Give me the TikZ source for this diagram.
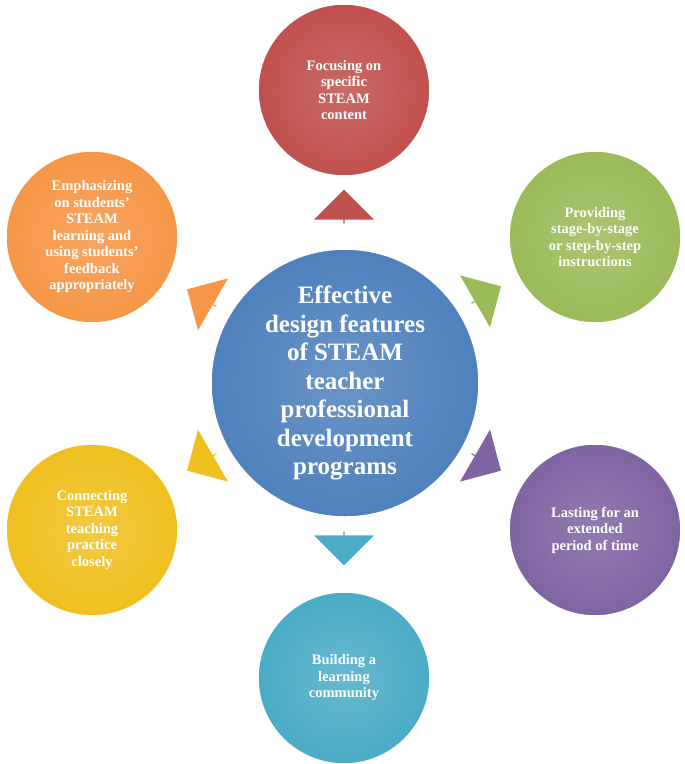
\documentclass[tikz,border=0pt]{standalone}
\usepackage{fontspec}
\setmainfont{Liberation Serif}
\usetikzlibrary{shapes.arrows}
\definecolor{cred}{HTML}{C0504D}
\definecolor{cgreen}{HTML}{9BBB59}
\definecolor{cpurple}{HTML}{8064A2}
\definecolor{cteal}{HTML}{4BACC6}
\definecolor{cyellow}{HTML}{F0C020}
\definecolor{corange}{HTML}{F79646}
\definecolor{cblue}{HTML}{4F81BD}
\tikzset{
  outer/.style={circle,minimum size=172pt,inner sep=0pt,draw=white,line width=1.5pt,
    inner color=#1!85!white,outer color=#1,text=white,font=\fontsize{14.5}{16.5}\selectfont\bfseries,align=center},
  blockarrow/.style={single arrow,fill=#1,minimum height=34pt,minimum width=60pt,
    single arrow head extend=10pt,inner sep=0pt}
}
\begin{document}
\begin{tikzpicture}[x=1pt,y=-1pt]
\useasboundingbox (0,0) rectangle (685,764);
\node[outer=cred] (t) at (344,90) {Focusing on\\specific\\STEAM\\content};
\node[outer=cgreen] (ru) at (595,237) {Providing\\stage-by-stage\\or step-by-step\\instructions};
\node[outer=cpurple] (rl) at (595,530) {Lasting for an\\extended\\period of time};
\node[outer=cteal] (b) at (344,678) {Building a\\learning\\community};
\node[outer=cyellow] (ll) at (92,530) {Connecting\\STEAM\\teaching\\practice\\closely};
\node[outer=corange] (lu) at (92,237) {Emphasizing\\on students'\\STEAM\\learning and\\using students'\\feedback\\appropriately};
\node[circle,minimum size=268pt,inner sep=0pt,draw=white,line width=1.5pt,inner color=cblue!85!white,outer color=cblue,
  text=white,font=\fontsize{25}{28.5}\selectfont\bfseries,align=center] (c) at (345,383)
  {Effective\\design features\\of STEAM\\teacher\\professional\\development\\programs};
\node[blockarrow=cred,rotate=90] (a1) at (344,207) {};
\node[blockarrow=cgreen,rotate=30] (a2) at (486,295) {};
\node[blockarrow=cpurple,rotate=-30] (a3) at (486,462) {};
\node[blockarrow=cteal,rotate=-90] (a4) at (344,548) {};
\node[blockarrow=cyellow,rotate=-150] (a5) at (202,462) {};
\node[blockarrow=corange,rotate=150] (a6) at (202,298) {};
\end{tikzpicture}
\end{document}
